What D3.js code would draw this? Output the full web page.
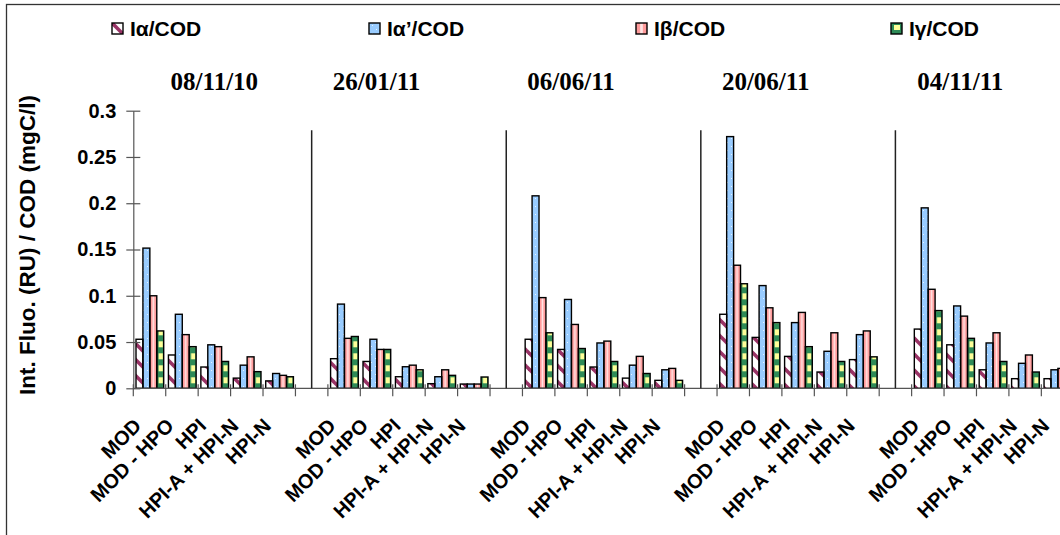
<!DOCTYPE html>
<html>
<head>
<meta charset="utf-8">
<script src="https://cdn.jsdelivr.net/npm/d3@7"></script>
<style>
  html, body { margin: 0; padding: 0; background: #fff; }
  svg { display: block; }
  text { font-family: "Liberation Sans", Arial, sans-serif; font-weight: bold; fill: #000; }
  .date { font-family: "Liberation Serif", "Times New Roman", serif; font-weight: bold; }
</style>
</head>
<body>
<svg id="chart" width="1060" height="535"></svg>
<script>
// ---------------- data ----------------
const dates = ["08/11/10", "26/01/11", "06/06/11", "20/06/11", "04/11/11"];
const fractions = ["MOD", "MOD - HPO", "HPI", "HPI-A + HPI-N", "HPI-N"];
const seriesNames = ["Iα/COD", "Iα’/COD", "Iβ/COD", "Iγ/COD"];
const yTicks = [0, 0.05, 0.1, 0.15, 0.2, 0.25, 0.3];

// values: 5 dates x 5 fractions (date-major order)
const iAlpha = [
  0.053, 0.036, 0.023, 0.011, 0.008,
  0.032, 0.029, 0.0125, 0.005, 0.0046,
  0.053, 0.042, 0.023, 0.011, 0.0086,
  0.080, 0.055, 0.0345, 0.0176, 0.031,
  0.064, 0.047, 0.020, 0.0104, 0.0104
];
const iAlphaPrime = [
  0.1515, 0.080, 0.047, 0.025, 0.016,
  0.091, 0.053, 0.0233, 0.0125, 0.0046,
  0.208, 0.096, 0.049, 0.025, 0.020,
  0.272, 0.111, 0.071, 0.040, 0.058,
  0.195, 0.089, 0.049, 0.027, 0.020
];
const iBeta = [
  0.100, 0.058, 0.045, 0.034, 0.014,
  0.054, 0.042, 0.025, 0.020, 0.0046,
  0.098, 0.069, 0.051, 0.0345, 0.0215,
  0.133, 0.087, 0.082, 0.060, 0.062,
  0.107, 0.078, 0.060, 0.036, 0.0215
];
const iGamma = [
  0.062, 0.045, 0.029, 0.018, 0.0125,
  0.056, 0.042, 0.020, 0.014, 0.0122,
  0.060, 0.043, 0.029, 0.016, 0.0086,
  0.113, 0.071, 0.045, 0.029, 0.034,
  0.084, 0.054, 0.029, 0.0176, 0.012
];

// ---------------- build ----------------
const seriesValues = [iAlpha, iAlphaPrime, iBeta, iGamma];
const seriesKeys = ["a", "ap", "b", "g"];

const svg = d3.select("#chart");
const x0 = 133.3, step = 32.43;

// patterns
const defs = svg.append("defs");
{
  const s = 16;
  const p = defs.append("pattern").attr("id", "pat-a").attr("patternUnits", "userSpaceOnUse")
    .attr("width", s).attr("height", s);
  p.append("rect").attr("width", s).attr("height", s).attr("fill", "#fff");
  [[-s, -s, 2 * s, 2 * s], [-s, 0, s, 2 * s], [0, -s, 2 * s, s]].forEach(c => {
    p.append("line").attr("x1", c[0]).attr("y1", c[1]).attr("x2", c[2]).attr("y2", c[3])
      .attr("stroke", "#993366").attr("stroke-width", 3.6);
  });
}
{
  const p = defs.append("pattern").attr("id", "pat-ap").attr("patternUnits", "userSpaceOnUse")
    .attr("width", 8).attr("height", 8);
  p.append("rect").attr("width", 8).attr("height", 8).attr("fill", "#99CCFF");
  p.append("rect").attr("x", 3).attr("y", 2).attr("width", 1).attr("height", 1).attr("fill", "#e8f4ff");
  p.append("rect").attr("x", 7).attr("y", 6).attr("width", 1).attr("height", 1).attr("fill", "#e8f4ff");
}
{
  const p = defs.append("pattern").attr("id", "pat-b").attr("patternUnits", "objectBoundingBox")
    .attr("patternContentUnits", "objectBoundingBox").attr("width", 1).attr("height", 1);
  p.append("rect").attr("width", 1).attr("height", 1).attr("fill", "#FF9C9C");
  p.append("rect").attr("x", 0.38).attr("width", 0.24).attr("height", 1).attr("fill", "#FFE4E4");
}
{
  const p = defs.append("pattern").attr("id", "pat-g").attr("patternUnits", "objectBoundingBox")
    .attr("patternContentUnits", "objectBoundingBox").attr("width", 1).attr("height", 1);
  p.append("rect").attr("width", 1).attr("height", 1).attr("fill", "#2E8B57");
}
{
  const p = defs.append("pattern").attr("id", "pat-g2").attr("patternUnits", "userSpaceOnUse")
    .attr("x", x0).attr("y", 388.3).attr("width", step).attr("height", 12);
  p.append("rect").attr("x", 25.3).attr("y", 1).attr("width", 4.2).attr("height", 6).attr("fill", "#FFFF99");
}
{
  const p = defs.append("pattern").attr("id", "pat-gl").attr("patternUnits", "userSpaceOnUse")
    .attr("width", 12).attr("height", 12);
  p.append("rect").attr("width", 12).attr("height", 12).attr("fill", "#2E8B57");
  p.append("rect").attr("x", 3).attr("y", 2).attr("width", 6).attr("height", 5).attr("fill", "#FFFF99");
}

// outer frame
svg.append("rect").attr("x", 6.5).attr("y", 4.5).attr("width", 1200).attr("height", 700)
  .attr("fill", "none").attr("stroke", "#333").attr("stroke-width", 1.3);

// slots: 5 fractions + 1 separator per date
const slots = [];
dates.forEach((d, gi) => {
  fractions.forEach((f, fi) => slots.push({ key: gi + "-" + fi, g: gi, f: fi, sep: false }));
  slots.push({ key: gi + "-sep", g: gi, f: -1, sep: true });
});

const x = d3.scaleBand().domain(slots.map(s => s.key))
  .range([x0, x0 + step * slots.length]).paddingInner(0).paddingOuter(0);
const xs = d3.scaleBand().domain(seriesKeys).range([2.7, 30.4]).padding(0);
const y = d3.scaleLinear().domain([0, 0.3]).range([388.3, 110.7]);

// bars
const barData = [];
slots.filter(s => !s.sep).forEach(s => {
  seriesKeys.forEach((k, si) => {
    barData.push({ slot: s.key, series: k, value: seriesValues[si][s.g * fractions.length + s.f] });
  });
});
const bars = svg.append("g");
bars.selectAll("rect.bar").data(barData).join("rect").attr("class", "bar")
  .attr("x", d => x(d.slot) + xs(d.series))
  .attr("width", xs.bandwidth())
  .attr("y", d => y(d.value))
  .attr("height", d => y(0) - y(d.value))
  .attr("fill", d => "url(#pat-" + d.series + ")");
bars.selectAll("rect.ov").data(barData.filter(d => d.series === "g")).join("rect").attr("class", "ov")
  .attr("x", d => x(d.slot) + xs(d.series))
  .attr("width", xs.bandwidth())
  .attr("y", d => y(d.value))
  .attr("height", d => y(0) - y(d.value))
  .attr("fill", "url(#pat-g2)");
bars.selectAll("rect.out").data(barData).join("rect").attr("class", "out")
  .attr("x", d => x(d.slot) + xs(d.series))
  .attr("width", xs.bandwidth())
  .attr("y", d => y(d.value))
  .attr("height", d => y(0) - y(d.value))
  .attr("fill", "none")
  .attr("stroke", "#000").attr("stroke-width", 1.4);

// x axis
const axisColor = "#555";
svg.append("line").attr("x1", x0).attr("x2", x0 + step * slots.length)
  .attr("y1", y(0)).attr("y2", y(0)).attr("stroke", axisColor).attr("stroke-width", 1.2);
svg.append("g").selectAll("line").data(slots).join("line")
  .attr("x1", d => x(d.key)).attr("x2", d => x(d.key))
  .attr("y1", y(0) - 4).attr("y2", y(0) + 8)
  .attr("stroke", axisColor).attr("stroke-width", 1.2);

// dividers
svg.append("g").selectAll("line").data(slots.filter(s => s.sep)).join("line")
  .attr("x1", d => x(d.key) + x.bandwidth() / 2).attr("x2", d => x(d.key) + x.bandwidth() / 2)
  .attr("y1", y(0.279)).attr("y2", y(0))
  .attr("stroke", "#222").attr("stroke-width", 1.5);

// y axis
const yAxis = d3.axisLeft(y).tickValues(yTicks).tickSize(7).tickSizeOuter(0).tickPadding(10)
  .tickFormat(d => String(d));
const gy = svg.append("g").attr("transform", `translate(${x0},0)`).call(yAxis);
gy.select(".domain").attr("stroke", axisColor).attr("stroke-width", 1.2);
gy.selectAll(".tick line").attr("x1", -7).attr("x2", 7).attr("stroke", axisColor).attr("stroke-width", 1.2);
gy.selectAll(".tick text").style("font-size", "20px").style("font-family", '"Liberation Sans", Arial, sans-serif')
  .style("font-weight", "bold").attr("fill", "#000");

// category labels (rotated -45)
svg.append("g").selectAll("g").data(slots.filter(s => !s.sep)).join("g")
  .attr("transform", d => `translate(${x(d.key) + x.bandwidth() / 2 - 7},427) rotate(-45)`)
  .append("text").attr("text-anchor", "end").style("font-size", "20px").text(d => fractions[d.f]);

// date titles
svg.append("g").selectAll("text").data(dates).join("text")
  .attr("class", "date")
  .attr("x", (d, i) => x(i + "-1") + step * (i === 0 ? 1.5 : 0.5))
  .attr("y", 90)
  .attr("text-anchor", "middle")
  .style("font-size", "25px")
  .text(d => d);

// y axis title
svg.append("text")
  .attr("transform", "translate(35,245) rotate(-90)")
  .attr("text-anchor", "middle")
  .style("font-size", "22.5px")
  .text("Int. Fluo. (RU) / COD (mgC/l)");

// legend
const legendX = [112, 369, 636, 891];
const legendFill = ["url(#pat-a)", "url(#pat-ap)", "url(#pat-b)", "url(#pat-gl)"];
const lg = svg.append("g").selectAll("g").data(seriesNames).join("g")
  .attr("transform", (d, i) => `translate(${legendX[i]},23)`);
lg.append("rect").attr("width", 11).attr("height", 11)
  .attr("fill", (d, i) => legendFill[i])
  .attr("stroke", "#000").attr("stroke-width", 1.4);
lg.append("text").attr("x", 18).attr("y", 12.8).style("font-size", "21px").text(d => d);
</script>
</body>
</html>
